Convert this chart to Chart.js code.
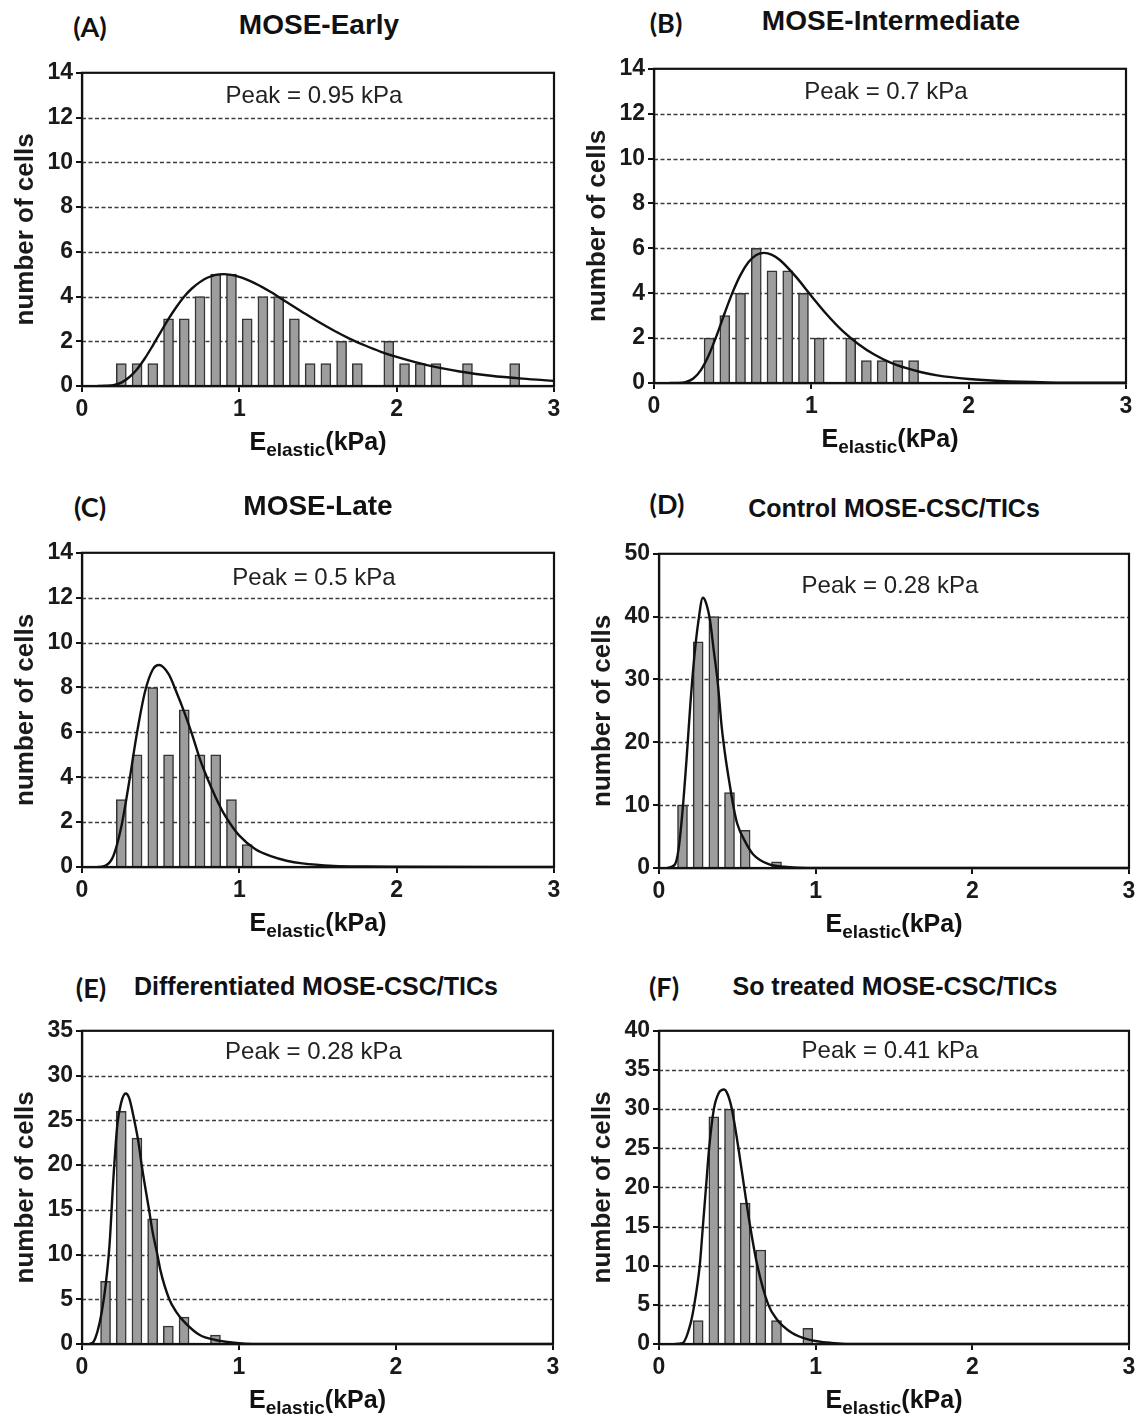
<!DOCTYPE html>
<html lang="en">
<head>
<meta charset="UTF-8">
<title>Elastic modulus distributions</title>
<style>
    body {
        margin: 0;
        background: #fff;
        font-family: 'Liberation Sans', Arial, sans-serif;
        color: #111;
    }
    #page {
        position: relative;
        width: 1140px;
        height: 1418px;
        overflow: hidden;
    }
    canvas { position: absolute; }
    .tag {
        position: absolute;
        font-family: Lato, 'Open Sans', sans-serif;
        font-weight: 700;
        font-size: 27px;
        line-height: 1;
        transform: translate(-50%, -50%);
        white-space: nowrap;
    }
    .title, .xtitle {
        position: absolute;
        font-weight: bold;
        line-height: 1;
        transform: translateX(-50%);
        white-space: nowrap;
    }
    .xtitle { font-size: 25px; }
    .xtitle sub {
        font-size: 19px;
        vertical-align: -6px;
        line-height: 0;
    }
</style>
</head>
<body>
<div id="page"></div>

<script src="https://cdn.jsdelivr.net/npm/chart.js"></script>
<script>
// histogram bins are 0.1 kPa wide, values are the bin centres
const binCentres = [0.05, 0.15, 0.25, 0.35, 0.45, 0.55, 0.65, 0.75, 0.85, 0.95,
                    1.05, 1.15, 1.25, 1.35, 1.45, 1.55, 1.65, 1.75, 1.85, 1.95,
                    2.05, 2.15, 2.25, 2.35, 2.45, 2.55, 2.65, 2.75, 2.85, 2.95];

const earlyCounts   = [0, 0, 1, 1, 1, 3, 3, 4, 5, 5, 3, 4, 4, 3, 1, 1, 2, 1, 0, 2, 1, 1, 1, 0, 1, 0, 0, 1, 0, 0];
const interCounts   = [0, 0, 0, 2, 3, 4, 6, 5, 5, 4, 2, 0, 2, 1, 1, 1, 1, 0, 0, 0, 0, 0, 0, 0, 0, 0, 0, 0, 0, 0];
const lateCounts    = [0, 0, 3, 5, 8, 5, 7, 5, 5, 3, 1, 0, 0, 0, 0, 0, 0, 0, 0, 0, 0, 0, 0, 0, 0, 0, 0, 0, 0, 0];
const controlCounts = [0, 10, 36, 40, 12, 6, 0, 1, 0, 0, 0, 0, 0, 0, 0, 0, 0, 0, 0, 0, 0, 0, 0, 0, 0, 0, 0, 0, 0, 0];
const diffCounts    = [0, 7, 26, 23, 14, 2, 3, 0, 1, 0, 0, 0, 0, 0, 0, 0, 0, 0, 0, 0, 0, 0, 0, 0, 0, 0, 0, 0, 0, 0];
const soCounts      = [0, 0, 3, 29, 30, 18, 12, 3, 0, 2, 0, 0, 0, 0, 0, 0, 0, 0, 0, 0, 0, 0, 0, 0, 0, 0, 0, 0, 0, 0];

// log-normal fit curves, sampled
const earlyFitX = [0.1, 0.15, 0.2, 0.25, 0.3, 0.35, 0.4, 0.45, 0.5, 0.55, 0.6, 0.65, 0.7, 0.8, 0.9, 1.0,
                   1.1, 1.2, 1.3, 1.4, 1.5, 1.6, 1.7, 1.8, 1.9, 2.0, 2.2, 2.4, 2.6, 2.8, 3.0];
const earlyFitY = [0, 0.01, 0.04, 0.15, 0.39, 0.75, 1.24, 1.81, 2.41, 3.0, 3.53, 4.0, 4.37, 4.85, 5.0, 4.88,
                   4.59, 4.2, 3.75, 3.31, 2.88, 2.48, 2.12, 1.81, 1.53, 1.3, 0.92, 0.65, 0.46, 0.33, 0.23];

const interFitX = [0.1, 0.15, 0.2, 0.25, 0.3, 0.35, 0.4, 0.45, 0.5, 0.55, 0.6, 0.65, 0.7, 0.75, 0.8, 0.9,
                   1.0, 1.1, 1.2, 1.3, 1.4, 1.5, 1.6, 1.7, 1.8, 2.0, 2.2, 2.5, 3.0];
const interFitY = [0, 0.003, 0.04, 0.2, 0.6, 1.27, 2.15, 3.13, 4.05, 4.82, 5.38, 5.7, 5.8, 5.71, 5.48, 4.75,
                   3.88, 3.04, 2.31, 1.73, 1.27, 0.92, 0.67, 0.48, 0.34, 0.18, 0.09, 0.03, 0.01];

const lateFitX = [0.1, 0.15, 0.2, 0.25, 0.3, 0.35, 0.4, 0.45, 0.49, 0.55, 0.6, 0.65, 0.7, 0.75, 0.8, 0.85,
                  0.9, 0.95, 1.0, 1.1, 1.2, 1.3, 1.4, 1.6, 1.8, 2.0, 3.0];
const lateFitY = [0, 0.06, 0.5, 1.8, 3.8, 6.0, 7.8, 8.8, 9.0, 8.6, 7.8, 6.9, 5.9, 4.8, 3.9, 3.1,
                  2.4, 1.85, 1.4, 0.8, 0.48, 0.28, 0.16, 0.05, 0.02, 0.01, 0];

const controlFitX = [0.05, 0.1, 0.125, 0.15, 0.175, 0.2, 0.225, 0.25, 0.28, 0.3, 0.325, 0.35, 0.375, 0.4,
                     0.425, 0.45, 0.475, 0.5, 0.55, 0.6, 0.7, 0.8, 0.9, 1.0, 3.0];
const controlFitY = [0, 0.5, 3, 9, 17, 26, 33.5, 39, 43, 42.2, 39.5, 34.5, 29.5, 22.5,
                     17.5, 13.5, 9.8, 7, 4.2, 2.2, 0.6, 0.2, 0.05, 0, 0];

const diffFitX = [0.05, 0.075, 0.1, 0.125, 0.15, 0.175, 0.2, 0.225, 0.25, 0.278, 0.3, 0.333, 0.36, 0.38,
                  0.4, 0.427, 0.45, 0.48, 0.5, 0.556, 0.6, 0.65, 0.75, 0.85, 1.0, 1.2, 3.0];
const diffFitY = [0, 0.3, 1.5, 3.5, 6.5, 11, 18.5, 24.5, 27, 28, 27.5, 25, 22.5, 20,
                  17.8, 15, 12.5, 10, 8.2, 5, 3.6, 2.5, 1.0, 0.45, 0.1, 0, 0];

const soFitX = [0.1, 0.15, 0.2, 0.225, 0.26, 0.28, 0.3, 0.32, 0.35, 0.38, 0.416, 0.44, 0.465, 0.507,
                0.544, 0.582, 0.628, 0.698, 0.75, 0.85, 0.95, 1.1, 1.3, 3.0];
const soFitY = [0, 0.1, 2.5, 5, 10, 15, 20, 25, 30, 32, 32.5, 31.8, 30, 25,
                20, 15, 10, 5, 3.2, 1.4, 0.6, 0.15, 0, 0];

const panelTags   = ['(A)', '(B)', '(C)', '(D)', '(E)', '(F)'];
const panelTitles = ['MOSE-Early', 'MOSE-Intermediate', 'MOSE-Late',
                     'Control MOSE-CSC/TICs', 'Differentiated MOSE-CSC/TICs', 'So treated MOSE-CSC/TICs'];
const peakLabels  = ['Peak = 0.95 kPa', 'Peak = 0.7 kPa', 'Peak = 0.5 kPa',
                     'Peak = 0.28 kPa', 'Peak = 0.28 kPa', 'Peak = 0.41 kPa'];
const yMaxes      = [14, 14, 14, 50, 35, 40];
const ySteps      = [2, 2, 2, 10, 5, 5];
const xTicks      = [0, 1, 2, 3];

const countSets = [earlyCounts, interCounts, lateCounts, controlCounts, diffCounts, soCounts];
const fitSets = [[earlyFitX, earlyFitY], [interFitX, interFitY], [lateFitX, lateFitY],
                 [controlFitX, controlFitY], [diffFitX, diffFitY], [soFitX, soFitY]];

// page geometry of each plot box and its headings
const boxes = [
    { col: 0,   left: 82,  right: 554,  top: 72,   bottom: 386,  tagX: 90,  tagY: 26,  titleX: 319, titleTop: 11,  titleSize: 28, peakDy: 24 },
    { col: 570, left: 654, right: 1126, top: 68,   bottom: 383,  tagX: 666, tagY: 22,  titleX: 891, titleTop: 7,   titleSize: 28, peakDy: 24 },
    { col: 0,   left: 82,  right: 554,  top: 552,  bottom: 867,  tagX: 90,  tagY: 506, titleX: 318, titleTop: 492, titleSize: 28, peakDy: 26 },
    { col: 570, left: 659, right: 1129, top: 553,  bottom: 868,  tagX: 667, tagY: 503, titleX: 894, titleTop: 496, titleSize: 25, peakDy: 33 },
    { col: 0,   left: 82,  right: 553,  top: 1030, bottom: 1344, tagX: 91,  tagY: 987, titleX: 316, titleTop: 974, titleSize: 25, peakDy: 22 },
    { col: 570, left: 659, right: 1129, top: 1030, bottom: 1344, tagX: 664, tagY: 986, titleX: 895, titleTop: 974, titleSize: 25, peakDy: 21 }
];

const AXIS_W = 82;   // room for y tick labels + axis title
const AXIS_H = 44;   // room for x tick labels
const PAD_TOP = 16;
const FONT = "'Liberation Sans', Arial, sans-serif";

// dashed y grid under the bars, closed frame and the peak note on top
const frameAndGrid = {
    id: 'frameAndGrid',
    beforeDatasetsDraw(chart) {
        const { ctx, chartArea: a, scales: { y } } = chart;
        ctx.save();
        ctx.strokeStyle = '#3c3c3c';
        ctx.lineWidth = 1.5;
        ctx.setLineDash([4, 2.5]);
        y.ticks.forEach(t => {
            if (t.value <= y.min || t.value >= y.max) return;
            const py = Math.round(y.getPixelForValue(t.value)) + 0.5;
            ctx.beginPath();
            ctx.moveTo(a.left, py);
            ctx.lineTo(a.right, py);
            ctx.stroke();
        });
        ctx.restore();
    },
    afterDatasetsDraw(chart, args, opts) {
        const { ctx, chartArea: a } = chart;
        ctx.save();
        ctx.strokeStyle = '#111';
        ctx.lineWidth = 2.2;
        ctx.strokeRect(a.left, a.top, a.right - a.left, a.bottom - a.top);
        ctx.fillStyle = '#222';
        ctx.font = '24px ' + FONT;
        ctx.textAlign = 'center';
        ctx.textBaseline = 'middle';
        ctx.fillText(opts.text, (a.left + a.right) / 2 - 4, a.top + opts.dy);
        ctx.restore();
    }
};

const page = document.getElementById('page');

function addText(cls, html, x, y, size) {
    const el = document.createElement('div');
    el.className = cls;
    el.innerHTML = html;
    el.style.left = x + 'px';
    el.style.top = y + 'px';
    if (size) el.style.fontSize = size + 'px';
    page.appendChild(el);
}

function drawPanel(i) {
    const g = boxes[i];
    const cLeft = g.left - AXIS_W;
    const cTop = g.top - PAD_TOP;
    const w = g.col + 570 - cLeft;
    const h = g.bottom - g.top + PAD_TOP + AXIS_H;

    const cv = document.createElement('canvas');
    cv.width = w;
    cv.height = h;
    cv.style.left = cLeft + 'px';
    cv.style.top = cTop + 'px';
    cv.style.width = w + 'px';
    cv.style.height = h + 'px';
    page.appendChild(cv);

    const counts = countSets[i];
    const bars = [];
    binCentres.forEach((x, k) => { if (counts[k] > 0) bars.push({ x: x, y: counts[k] }); });
    const [fx, fy] = fitSets[i];
    const curve = fx.map((x, k) => ({ x: x, y: fy[k] }));

    new Chart(cv, {
        type: 'bar',
        data: {
            datasets: [
                {
                    type: 'line',
                    data: curve,
                    borderColor: '#111',
                    borderWidth: 2.4,
                    pointRadius: 0,
                    cubicInterpolationMode: 'monotone',
                    fill: false,
                    order: 0
                },
                {
                    type: 'bar',
                    data: bars,
                    backgroundColor: '#9d9d9d',
                    borderColor: '#333',
                    borderWidth: 1.5,
                    barThickness: 10,
                    order: 1
                }
            ]
        },
        options: {
            responsive: false,
            animation: false,
            layout: { padding: { top: PAD_TOP, right: g.col + 570 - g.right, left: 0, bottom: 0 } },
            plugins: {
                legend: { display: false },
                tooltip: { enabled: false },
                frameAndGrid: { text: peakLabels[i], dy: g.peakDy }
            },
            scales: {
                x: {
                    type: 'linear',
                    min: 0,
                    max: 3,
                    offset: false,
                    afterFit: s => { s.height = AXIS_H; },
                    afterBuildTicks: s => { s.ticks = xTicks.map(v => ({ value: v })); },
                    grid: { offset: false, drawOnChartArea: false, tickLength: 6, tickColor: '#111', lineWidth: 2 },
                    border: { color: '#111', width: 2.2 },
                    ticks: { color: '#1a1a1a', padding: 4, font: { family: FONT, size: 23, weight: 'bold' } }
                },
                y: {
                    min: 0,
                    max: yMaxes[i],
                    afterFit: s => { s.width = AXIS_W; },
                    grid: { drawOnChartArea: false, tickLength: 6, tickColor: '#111', lineWidth: 2 },
                    border: { color: '#111', width: 2.2 },
                    ticks: { stepSize: ySteps[i], color: '#1a1a1a', font: { family: FONT, size: 23, weight: 'bold' } },
                    title: {
                        display: true,
                        text: 'number of cells',
                        color: '#1a1a1a',
                        padding: { top: 10 },
                        font: { family: FONT, size: 26, weight: 'bold' }
                    }
                }
            }
        },
        plugins: [frameAndGrid]
    });

    addText('tag', panelTags[i], g.tagX, g.tagY);
    addText('title', panelTitles[i], g.titleX, g.titleTop, g.titleSize);
    addText('xtitle', 'E<sub>elastic</sub>(kPa)', (g.left + g.right) / 2, g.bottom + 43);
}

for (let i = 0; i < boxes.length; i++) drawPanel(i);
</script>
</body>
</html>
